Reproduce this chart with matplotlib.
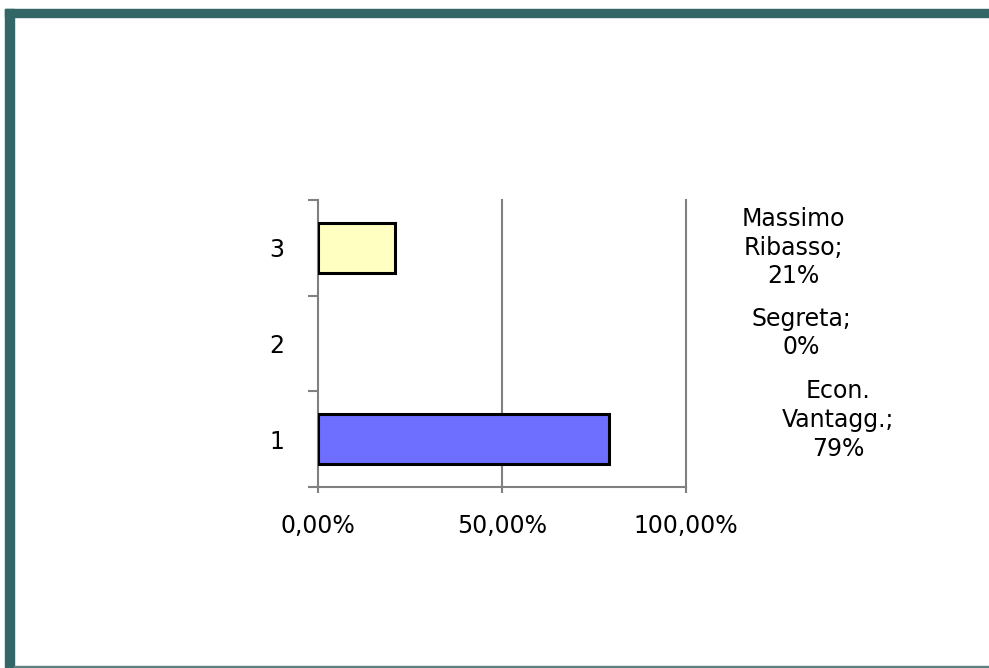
import matplotlib
matplotlib.use("Agg")
import matplotlib.pyplot as plt
from matplotlib.patches import Rectangle
from matplotlib.ticker import FuncFormatter, FixedLocator

# Award criteria share
categories = ["1", "2", "3"]
criteria = ["Econ.\nVantagg.;", "Segreta;", "Massimo\nRibasso;"]
shares = [0.79, 0.0, 0.21]
bar_colors = ["#6E6EFF", "#FF99CC", "#FFFFC2"]
x_ticks = [0.0, 0.5, 1.0]

# label anchors (data coords) for the category annotations on the right
label_x = [1.413, 1.313, 1.293]
label_y = [1.20, 2.11, 3.00]

W, H = 989, 668
fig = plt.figure(figsize=(W / 100, H / 100), dpi=100)
fig.patch.set_facecolor("white")

# slide frame: teal band on top and left, thin rule at the bottom
teal = "#336666"
fig.patches.append(Rectangle((5 / W, (H - 17) / H), 1 - 5 / W, 8 / H,
                             transform=fig.transFigure, color=teal, zorder=0))
fig.patches.append(Rectangle((5 / W, 0), 9 / W, (H - 9) / H,
                             transform=fig.transFigure, color=teal, zorder=0))
fig.patches.append(Rectangle((14 / W, 0), 1 - 14 / W, 1.6 / H,
                             transform=fig.transFigure, color="#5F8080", zorder=0))

ax = fig.add_axes([318 / W, 1 - 487 / H, 368 / W, 287 / H])
ax.set_facecolor("none")

ypos = list(range(1, len(categories) + 1))
widths_lw = [2.2 if v > 0 else 0 for v in shares]
ax.barh(ypos, shares, height=0.52, color=bar_colors, edgecolor="black",
        linewidth=widths_lw, zorder=3)

ax.set_xlim(0, 1)
ax.set_ylim(0.5, len(categories) + 0.5)

grey = "#808080"
for s in ("top", "right"):
    ax.spines[s].set_visible(False)
for s in ("left", "bottom"):
    ax.spines[s].set_color(grey)
    ax.spines[s].set_linewidth(1.5)

ax.xaxis.set_major_locator(FixedLocator(x_ticks))
ax.xaxis.set_major_formatter(FuncFormatter(lambda v, p: f"{v * 100:.2f}%".replace(".", ",")))
for xv in x_ticks[1:]:
    ax.axvline(xv, color=grey, linewidth=1.5, zorder=1, clip_on=False)
ax.tick_params(axis="x", direction="out", length=4.5, width=1.5, color=grey,
               labelsize=17, pad=15)

ax.set_yticks(ypos)
ax.set_yticklabels(categories)
ax.yaxis.set_minor_locator(FixedLocator([y + 0.5 for y in range(len(categories) + 1)]))
ax.tick_params(axis="y", which="major", length=0, labelsize=17, pad=24)
ax.tick_params(axis="y", which="minor", direction="out", length=7, width=1.5, color=grey)

for name, v, lx, ly in zip(criteria, shares, label_x, label_y):
    ax.text(lx, ly, f"{name}\n{round(v * 100)}%", ha="center", va="center",
            fontsize=17, linespacing=1.24, clip_on=False)

fig.savefig("out.png", dpi=100)
